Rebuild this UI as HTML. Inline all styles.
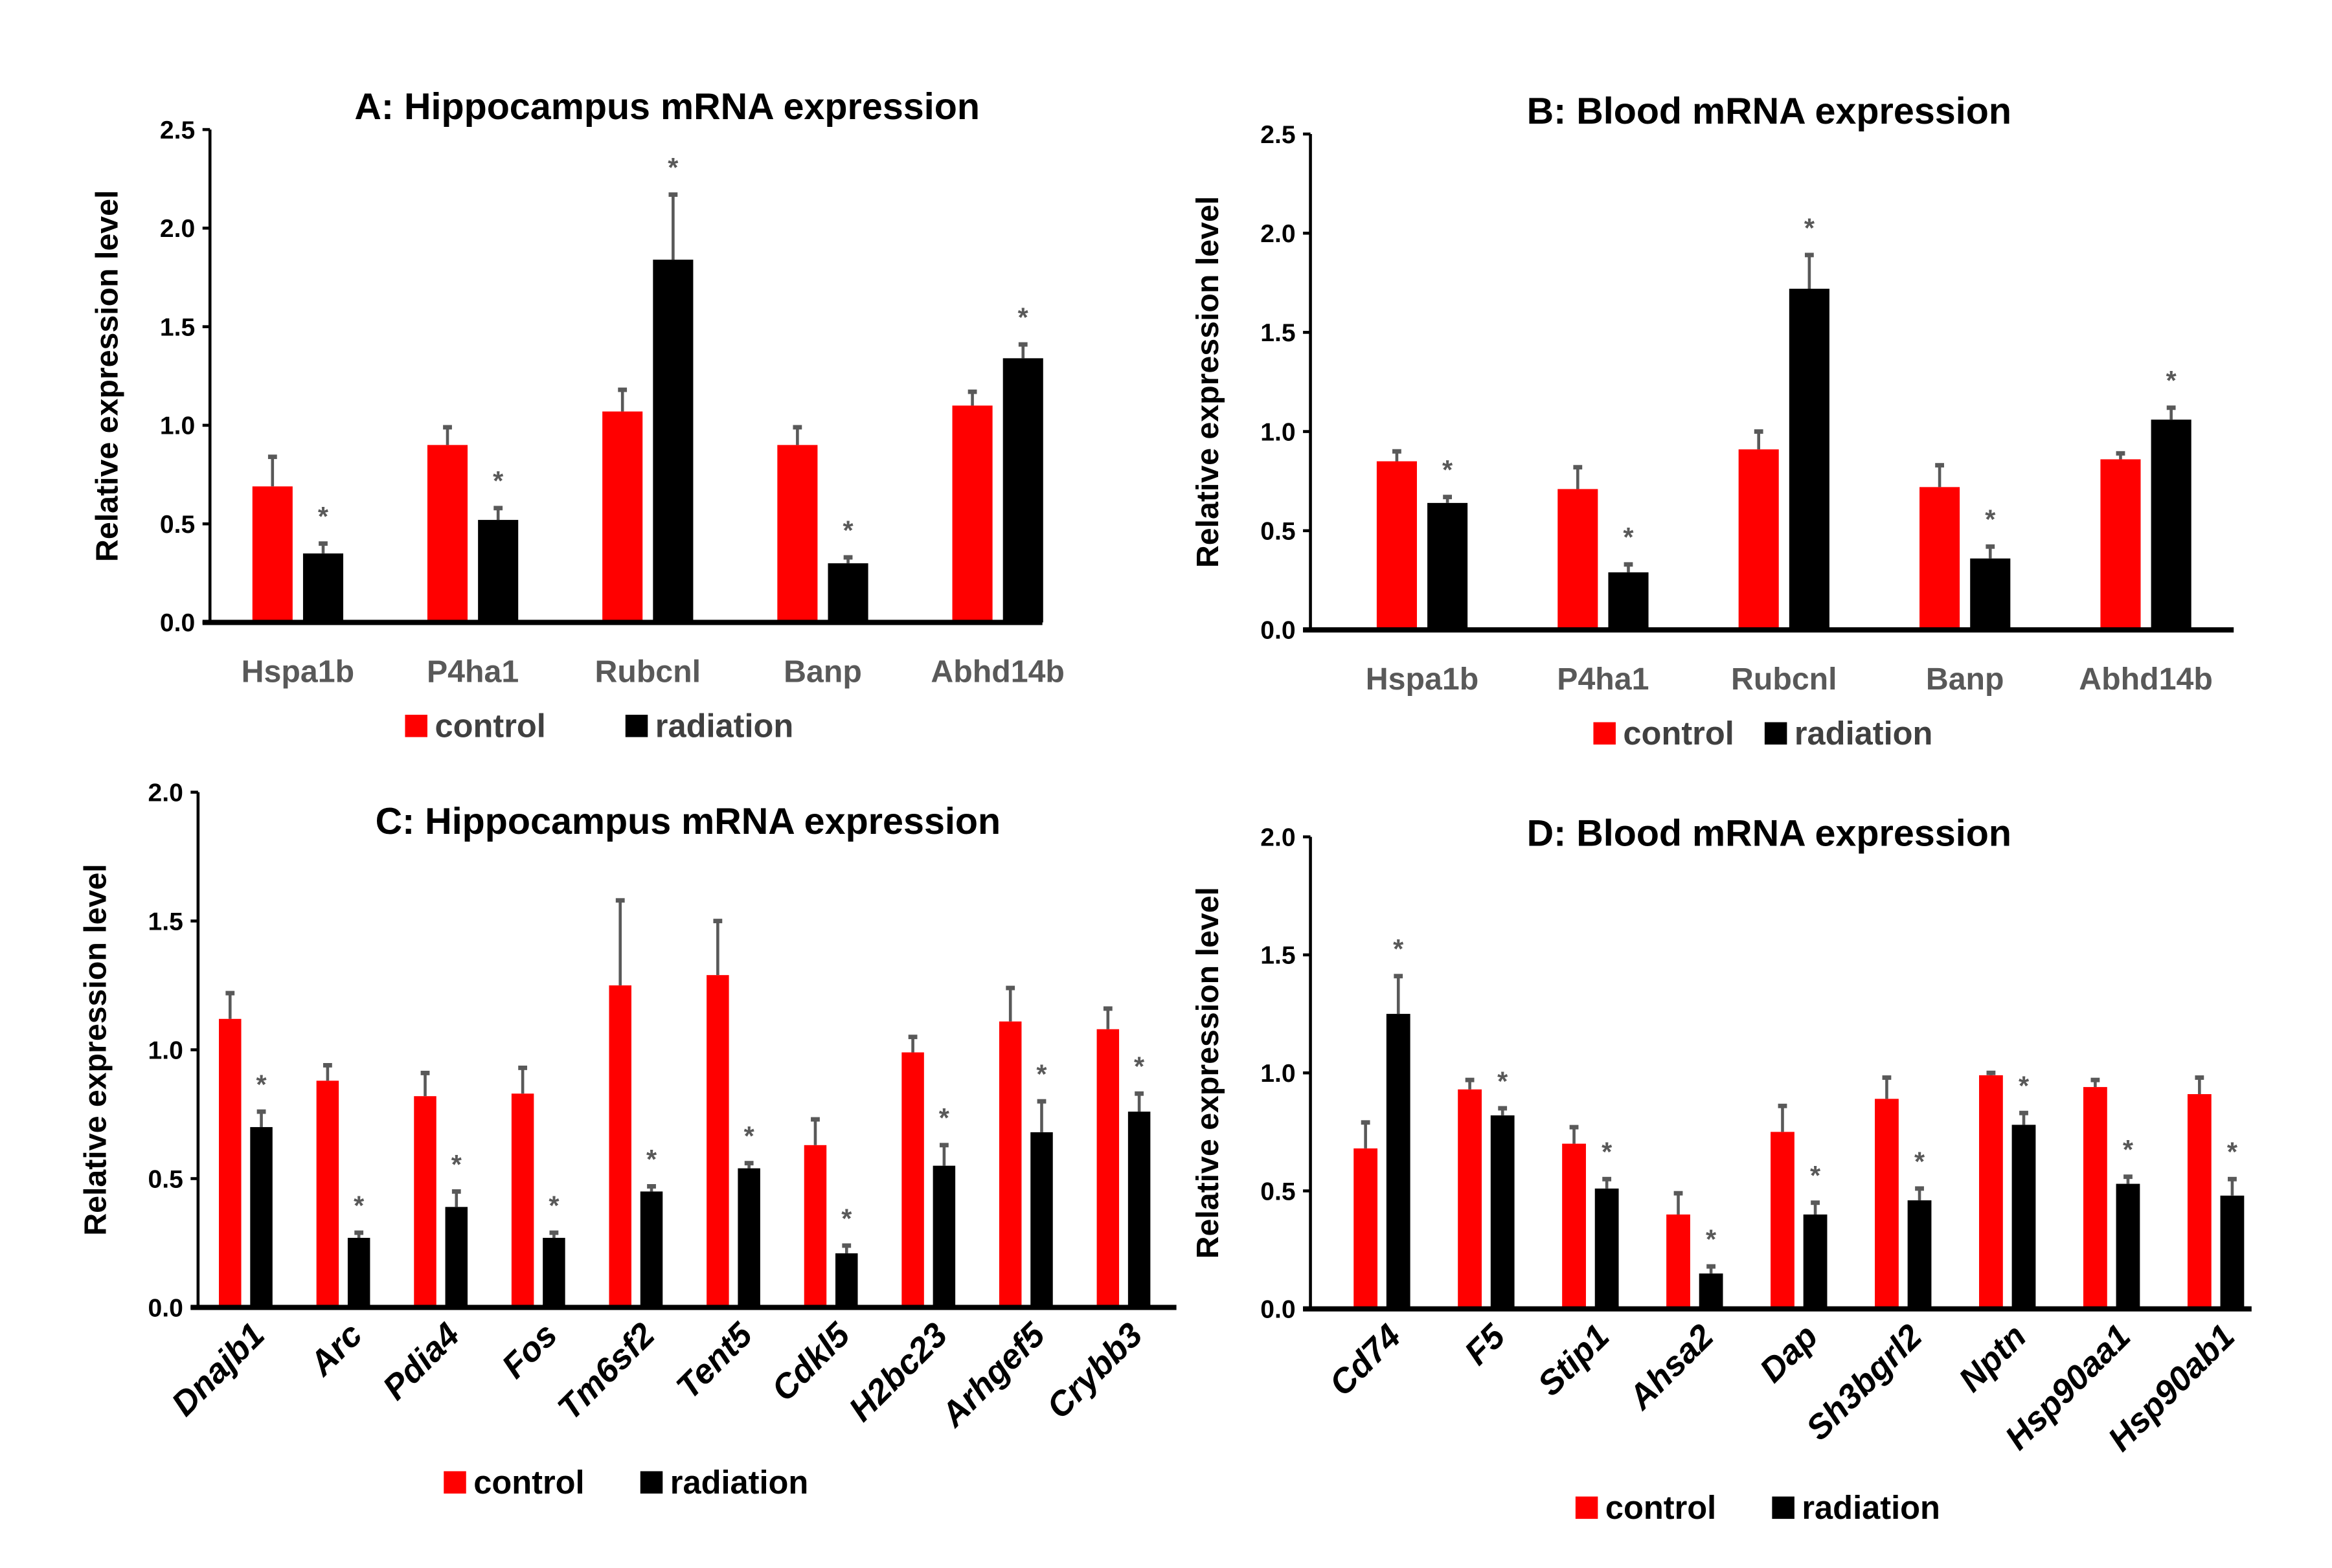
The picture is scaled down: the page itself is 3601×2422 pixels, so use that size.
<!DOCTYPE html>
<html><head><meta charset="utf-8"><style>
html,body{margin:0;padding:0;background:#fff;}
svg{display:block;font-family:"Liberation Sans",Arial,sans-serif;}
</style></head><body>
<svg id="fig" width="3601" height="2422" viewBox="0 0 1566 1053" preserveAspectRatio="none"></svg>
<script>
// Panel A
const catsA=["Hspa1b","P4ha1","Rubcnl","Banp","Abhd14b"];
const ctrlA=[0.69,0.90,1.07,0.90,1.10];
const ctrlErrA=[0.84,0.99,1.18,0.99,1.17];
const radA=[0.35,0.52,1.84,0.30,1.34];
const radErrA=[0.40,0.58,2.17,0.33,1.41];
const ticksA=["0.0","0.5","1.0","1.5","2.0","2.5"];
// Panel B
const catsB=["Hspa1b","P4ha1","Rubcnl","Banp","Abhd14b"];
const ctrlB=[0.85,0.71,0.91,0.72,0.86];
const ctrlErrB=[0.90,0.82,1.00,0.83,0.89];
const radB=[0.64,0.29,1.72,0.36,1.06];
const radErrB=[0.67,0.33,1.89,0.42,1.12];
const ticksB=["0.0","0.5","1.0","1.5","2.0","2.5"];
// Panel C
const catsC=["Dnajb1","Arc","Pdia4","Fos","Tm6sf2","Tent5","Cdkl5","H2bc23","Arhgef5","Crybb3"];
const ctrlC=[1.12,0.88,0.82,0.83,1.25,1.29,0.63,0.99,1.11,1.08];
const ctrlErrC=[1.22,0.94,0.91,0.93,1.58,1.50,0.73,1.05,1.24,1.16];
const radC=[0.70,0.27,0.39,0.27,0.45,0.54,0.21,0.55,0.68,0.76];
const radErrC=[0.76,0.29,0.45,0.29,0.47,0.56,0.24,0.63,0.80,0.83];
const ticksC=["0.0","0.5","1.0","1.5","2.0"];
// Panel D
const catsD=["Cd74","F5","Stip1","Ahsa2","Dap","Sh3bgrl2","Nptn","Hsp90aa1","Hsp90ab1"];
const ctrlD=[0.68,0.93,0.70,0.40,0.75,0.89,0.99,0.94,0.91];
const ctrlErrD=[0.79,0.97,0.77,0.49,0.86,0.98,1.00,0.97,0.98];
const radD=[1.25,0.82,0.51,0.15,0.40,0.46,0.78,0.53,0.48];
const radErrD=[1.41,0.85,0.55,0.18,0.45,0.51,0.83,0.56,0.55];
const ticksD=["0.0","0.5","1.0","1.5","2.0"];

const NS="http://www.w3.org/2000/svg";
const svg=document.getElementById('fig');
function mk(tag,attrs,parent,text){
  const e=document.createElementNS(NS,tag);
  for(const k in attrs)e.setAttribute(k,attrs[k]);
  if(text!==undefined)e.textContent=text;
  (parent||svg).appendChild(e);return e;
}
function panel(p){
  const g=mk('g',{});
  
  
  const ymax=parseFloat(p.ticks[p.ticks.length-1]);
  const y=v=>p.y0-(v/ymax)*(p.y0-p.ytop);
  const xc=i=>p.c0+i*p.step;
  const t=mk('text',{x:p.tx,y:p.ty,'text-anchor':'middle','font-size':25,'font-weight':'bold',fill:'#000'},g,p.title);
  
  
  const yt=mk('text',{x:0,y:0,transform:`translate(${p.ax-62},${(p.y0+p.ytop)/2}) rotate(-90)`,'text-anchor':'middle','font-size':21,'font-weight':'bold',fill:'#000'},g,'Relative expression level');
  
  
  p.ticks.forEach(tk=>{
    const v=parseFloat(tk);
    mk('line',{x1:p.ax-5,x2:p.ax,y1:y(v),y2:y(v),stroke:'#000','stroke-width':2},g);
    const tl=mk('text',{x:p.ax-10,y:y(v)+6,'text-anchor':'end','font-size':17,'font-weight':'bold',fill:'#000'},g,tk);
    
    
  });
  p.cats.forEach((c,i)=>{
    const xr=xc(i)-p.gap/2-p.bw, xb=xc(i)+p.gap/2;
    const r=mk('rect',{x:xr,y:y(p.ctrl[i]),width:p.bw,height:y(0)-y(p.ctrl[i]),fill:'#ff0000'},g);
    
    
    const b=mk('rect',{x:xb,y:y(p.rad[i]),width:p.bw,height:y(0)-y(p.rad[i]),fill:'#000'},g);
    
    
    [[xr,p.ctrl[i],p.ctrlErr[i]],[xb,p.rad[i],p.radErr[i]]].forEach(([x0,v,e])=>{
      const cx=x0+p.bw/2;
      mk('line',{x1:cx,x2:cx,y1:y(v),y2:y(e),stroke:'#595959','stroke-width':2},g);
      mk('line',{x1:cx-3,x2:cx+3,y1:y(e),y2:y(e),stroke:'#595959','stroke-width':3},g);
    });
    const s=mk('text',{x:xb+p.bw/2,y:y(p.radErr[i])-12,'text-anchor':'middle','font-size':18,'font-weight':'bold',fill:'#595959'},g,'*');
    
    
    let lab;
    if(p.rot){
      lab=mk('text',{x:0,y:0,transform:`translate(${xc(i)+14},${p.y0+20}) rotate(-45)`,'text-anchor':'end','font-size':23,'font-weight':'bold','font-style':'italic',fill:'#000'},g,c);
    }else{
      lab=mk('text',{x:xc(i),y:p.y0+40,'text-anchor':'middle','font-size':21,'font-weight':'bold',fill:'#595959'},g,c);
    }
    
    
  });
  mk('line',{x1:p.ax,x2:p.ax,y1:p.ytop,y2:p.y0,stroke:'#000','stroke-width':2},g);
  mk('line',{x1:p.ax-5,x2:p.xend,y1:p.y0,y2:p.y0,stroke:'#000','stroke-width':3.5},g);
  const lg=mk('g',{},g);
  
  
  mk('rect',{x:p.lx1,y:p.ly-15,width:15,height:15,fill:'#ff0000'},lg);
  const l1=mk('text',{x:p.lx1+20,y:p.ly,'font-size':22,'font-weight':'bold',fill:p.rot?'#000':'#404040'},lg,'control');
  
  
  mk('rect',{x:p.lx2,y:p.ly-15,width:15,height:15,fill:'#000'},lg);
  const l2=mk('text',{x:p.lx2+20,y:p.ly,'font-size':22,'font-weight':'bold',fill:p.rot?'#000':'#404040'},lg,'radiation');
  
  
}
panel({name:'panel-a-hippocampus',title:'A: Hippocampus mRNA expression',tx:448,ty:80,cats:catsA,ctrl:ctrlA,ctrlErr:ctrlErrA,rad:radA,radErr:radErrA,ticks:ticksA,
  ax:141,y0:418,ytop:87,xend:700,c0:200,step:117.5,bw:27,gap:7,rot:false,ly:495,lx1:272,lx2:420});
panel({name:'panel-b-blood',title:'B: Blood mRNA expression',tx:1188,ty:83,cats:catsB,ctrl:ctrlB,ctrlErr:ctrlErrB,rad:radB,radErr:radErrB,ticks:ticksB,
  ax:880,y0:423,ytop:90,xend:1500,c0:955,step:121.5,bw:27,gap:7,rot:false,ly:500,lx1:1070,lx2:1185});
panel({name:'panel-c-hippocampus',title:'C: Hippocampus mRNA expression',tx:462,ty:560,cats:catsC,ctrl:ctrlC,ctrlErr:ctrlErrC,rad:radC,radErr:radErrC,ticks:ticksC,
  ax:133,y0:878,ytop:532,xend:790,c0:165,step:65.5,bw:15,gap:6,rot:true,ly:1003,lx1:298,lx2:430});
panel({name:'panel-d-blood',title:'D: Blood mRNA expression',tx:1188,ty:568,cats:catsD,ctrl:ctrlD,ctrlErr:ctrlErrD,rad:radD,radErr:radErrD,ticks:ticksD,
  ax:880,y0:879,ytop:562,xend:1512,c0:928,step:70,bw:16,gap:6,rot:true,ly:1020,lx1:1058,lx2:1190});
</script>
</body></html>
